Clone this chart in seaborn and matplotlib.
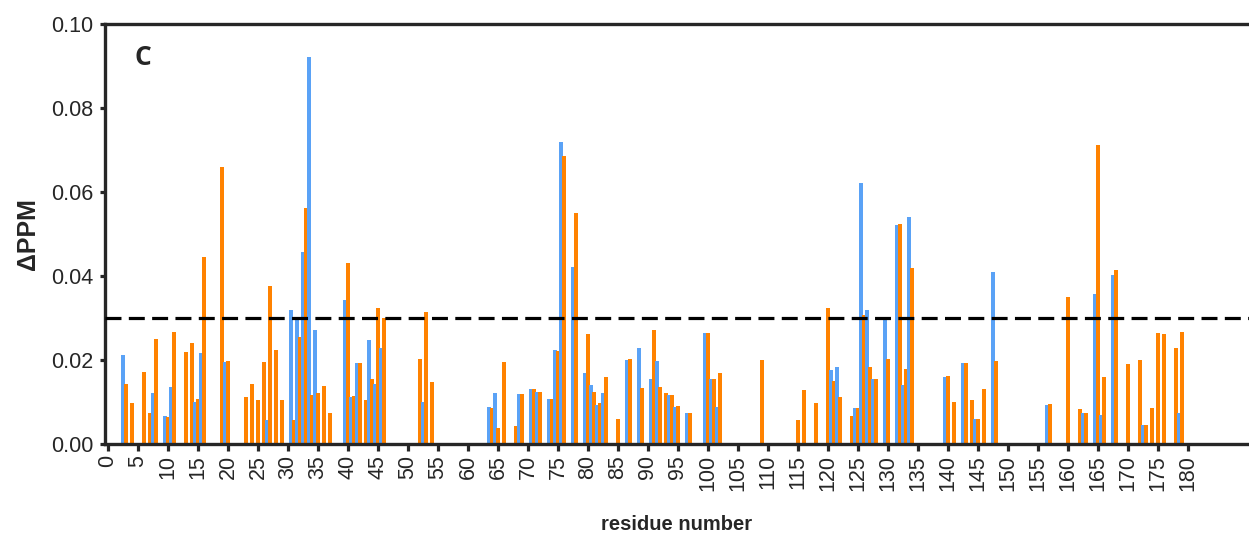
import numpy as np
import pandas as pd
import seaborn as sns
import matplotlib.pyplot as plt

sns.set_style("ticks")
plt.rcParams['font.family'] = ['Liberation Sans', 'DejaVu Sans']

# chemical shift perturbation per residue, two data sets
blue_res = [3, 8, 10, 11, 15, 16, 20, 27, 31, 32, 33, 34, 35, 40, 41, 42, 44, 45, 46,
            53, 64, 65, 69, 71, 72, 74, 75, 76, 78, 80, 81, 82, 83, 87, 89, 91, 92,
            94, 95, 97, 100, 101, 102, 121, 122, 125, 126, 127, 128, 130, 132, 133,
            134, 140, 143, 145, 148, 157, 163, 165, 166, 168, 173, 179]
blue_ppm = [0.0212, 0.0122, 0.0067, 0.0135, 0.0101, 0.0217, 0.0196, 0.0057, 0.0320,
            0.0300, 0.0458, 0.0922, 0.0271, 0.0343, 0.0111, 0.0192, 0.0248, 0.0144,
            0.0228, 0.0101, 0.0087, 0.0122, 0.0118, 0.0130, 0.0125, 0.0108, 0.0224,
            0.0720, 0.0421, 0.0168, 0.0140, 0.0094, 0.0122, 0.0200, 0.0228, 0.0154,
            0.0198, 0.0116, 0.0089, 0.0073, 0.0264, 0.0154, 0.0087, 0.0176, 0.0184,
            0.0085, 0.0621, 0.0319, 0.0156, 0.0299, 0.0521, 0.0140, 0.0540, 0.0160,
            0.0192, 0.0060, 0.0410, 0.0093, 0.0073, 0.0357, 0.0069, 0.0402, 0.0045,
            0.0073]

orange_res = [3, 4, 6, 7, 8, 10, 11, 13, 14, 15, 16, 19, 20, 23, 24, 25, 26, 27, 28,
              29, 31, 32, 33, 34, 35, 36, 37, 40, 41, 42, 43, 44, 45, 46, 52, 53, 54,
              64, 65, 66, 68, 69, 71, 72, 74, 75, 76, 78, 80, 81, 82, 83, 85, 87, 89,
              91, 92, 93, 94, 95, 97, 100, 101, 102, 109, 115, 116, 118, 120, 121,
              122, 124, 125, 126, 127, 128, 130, 132, 133, 134, 140, 141, 143, 144,
              145, 146, 148, 157, 160, 162, 163, 165, 166, 168, 170, 172, 173, 174,
              175, 176, 178, 179]
orange_ppm = [0.0144, 0.0098, 0.0172, 0.0075, 0.0249, 0.0065, 0.0267, 0.0220, 0.0240,
              0.0107, 0.0446, 0.0660, 0.0198, 0.0113, 0.0144, 0.0105, 0.0196, 0.0376,
              0.0225, 0.0106, 0.0057, 0.0254, 0.0561, 0.0117, 0.0121, 0.0137, 0.0075,
              0.0432, 0.0114, 0.0194, 0.0105, 0.0156, 0.0323, 0.0300, 0.0202, 0.0315,
              0.0148, 0.0085, 0.0037, 0.0196, 0.0044, 0.0120, 0.0130, 0.0124, 0.0108,
              0.0222, 0.0686, 0.0549, 0.0263, 0.0123, 0.0097, 0.0159, 0.0060, 0.0202,
              0.0133, 0.0271, 0.0135, 0.0121, 0.0117, 0.0091, 0.0075, 0.0265, 0.0156,
              0.0170, 0.0200, 0.0057, 0.0129, 0.0097, 0.0325, 0.0151, 0.0111, 0.0067,
              0.0085, 0.0307, 0.0184, 0.0156, 0.0202, 0.0524, 0.0178, 0.0418, 0.0162,
              0.0101, 0.0194, 0.0105, 0.0060, 0.0130, 0.0198, 0.0095, 0.0351, 0.0083,
              0.0073, 0.0712, 0.0160, 0.0414, 0.0190, 0.0200, 0.0045, 0.0085, 0.0264,
              0.0261, 0.0228, 0.0267]

cutoff = 0.03
xticks = list(range(0, 181, 5))

residues = np.arange(0, 181)
df = pd.DataFrame({'residue': residues})
df['blue'] = pd.Series(blue_ppm, index=blue_res).reindex(residues, fill_value=0).values
df['orange'] = pd.Series(orange_ppm, index=orange_res).reindex(residues, fill_value=0).values
df['x_blue'] = df['residue'] - 0.45
df['x_orange'] = df['residue'] + 0.05

fig = plt.figure(figsize=(12.49, 5.36), dpi=100)
ax = fig.add_axes([0.0841, 0.1716, 0.9159, 0.7836])

sns.barplot(data=df, x='x_blue', y='blue', native_scale=True, color='#5aa2f6',
            saturation=1, width=0.72, errorbar=None, linewidth=0, ax=ax)
sns.barplot(data=df, x='x_orange', y='orange', native_scale=True, color='#ff8200',
            saturation=1, width=0.72, errorbar=None, linewidth=0, ax=ax)

# draw residue by residue: blue, orange, next blue ...
for p in ax.patches:
    p.set_zorder(2 + p.get_x() / 1000)

ax.axhline(cutoff, color='black', lw=2.3, dashes=(5, 2.3), zorder=5)

ax.set_xlim(-0.5, 190.2)
ax.set_ylim(0, 0.1)
ax.set_xticks(xticks)
ax.set_xticklabels([str(t) for t in xticks], rotation=90, fontsize=15.5)
ax.set_yticks([0, 0.02, 0.04, 0.06, 0.08, 0.10])
ax.set_yticklabels(['0.00', '0.02', '0.04', '0.06', '0.08', '0.10'], fontsize=15.5)
ax.tick_params(axis='x', direction='out', length=5, width=2.3, pad=3)
ax.tick_params(axis='y', direction='out', length=3.5, width=2.3, pad=5)

for s in ['left', 'bottom', 'top']:
    ax.spines[s].set_linewidth(2.4)
ax.spines['right'].set_visible(False)

ax.set_xlabel('residue number', fontsize=14.5, fontweight='bold', labelpad=17)
ax.set_ylabel('\u0394PPM', fontsize=18, fontweight='bold', labelpad=8)

ax.text(0.0332, 0.921, 'C', transform=ax.transAxes, ha='center', va='center',
        fontsize=19, fontweight='bold', family=['Open Sans', 'DejaVu Sans'])

fig.savefig('out.png', dpi=100)
